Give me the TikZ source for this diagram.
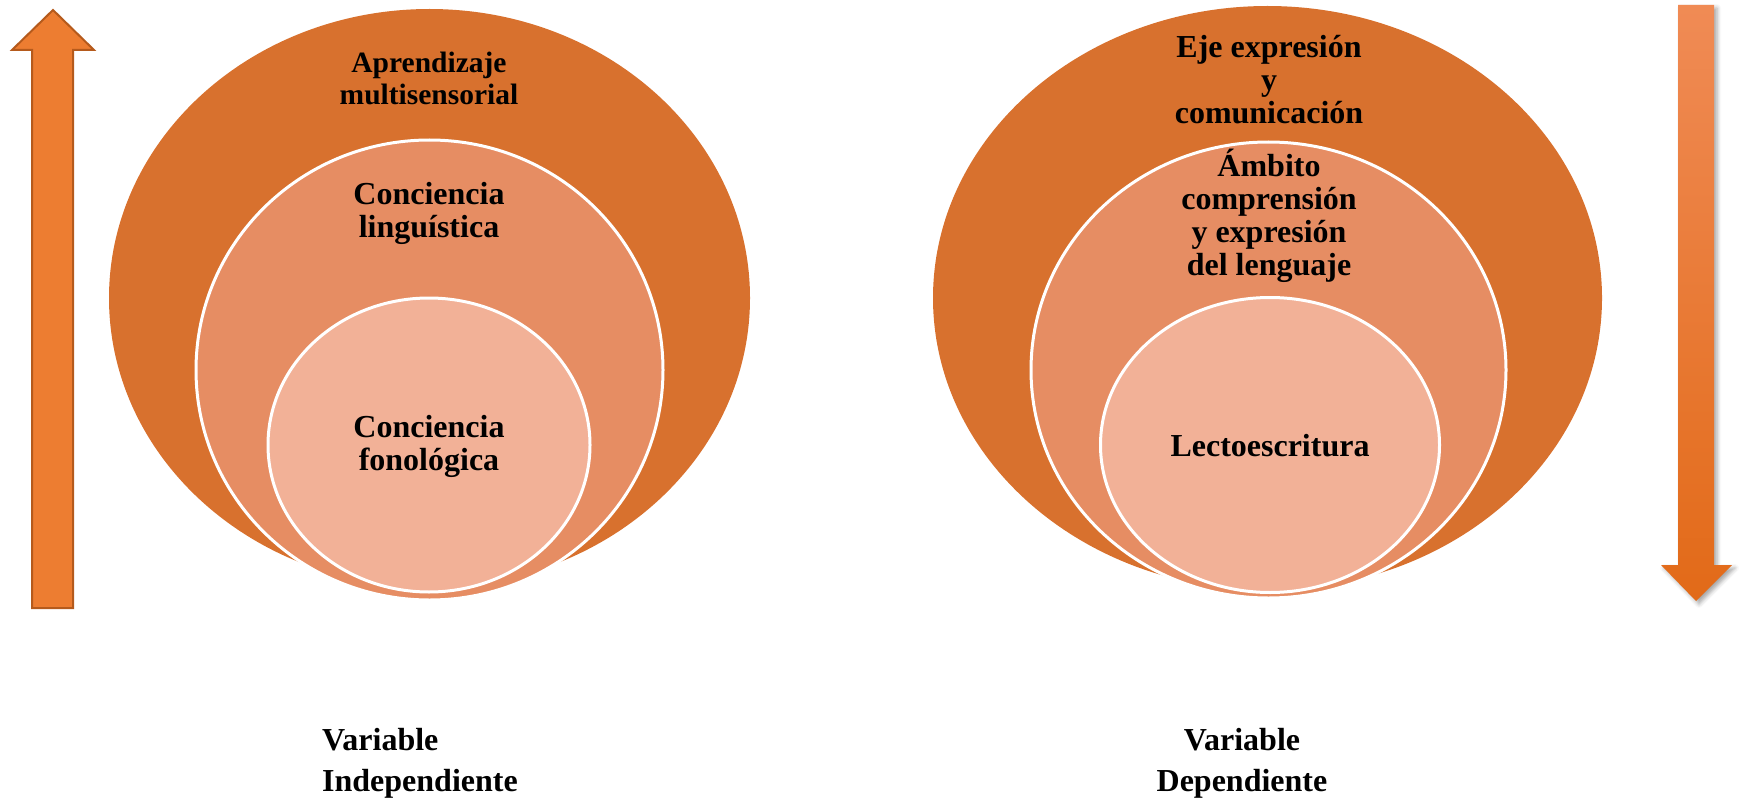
\documentclass[tikz,border=0pt]{standalone}
\usepackage{fontspec}
\setmainfont{Liberation Serif}
\usetikzlibrary{shapes.geometric}
\usetikzlibrary{shadows.blur}
\definecolor{outerc}{HTML}{D8712E}
\definecolor{middlec}{HTML}{E68D63}
\definecolor{innerc}{HTML}{F2B197}
\definecolor{arrowc}{HTML}{ED7D31}
\definecolor{arrowedge}{HTML}{B55A1C}
\definecolor{gradtop}{HTML}{F08B55}
\definecolor{gradmid}{HTML}{F47F2F}
\definecolor{gradbot}{HTML}{E26A18}

\begin{document}
\begin{tikzpicture}[x=1pt,y=-1pt,
    blob/.style={ellipse,inner sep=0pt},
    ring/.style={blob,draw=white,line width=3pt},
    txt/.style={font=\fontsize{32}{33}\selectfont\bfseries,align=center,inner sep=0pt},
    vartxt/.style={font=\fontsize{32}{41}\selectfont\bfseries,inner sep=0pt}]
\useasboundingbox (0,0) rectangle (1742,805);

    % left: independent variable
    \node[blob,fill=outerc,minimum width=641,minimum height=578] (outer0) at (429.5,298) {};
    \node[ring,fill=middlec,minimum width=467,minimum height=460] (middle0) at (429.5,370) {};
    \node[ring,fill=innerc,minimum width=322,minimum height=294] (inner0) at (429,445) {};

    % right: dependent variable
    \node[blob,fill=outerc,minimum width=669,minimum height=584] (outer1) at (1267.5,298) {};
    \node[ring,fill=middlec,minimum width=475,minimum height=456] (middle1) at (1268.5,370) {};
    \node[ring,fill=innerc,minimum width=339,minimum height=295] (inner1) at (1270,445) {};

    % labels
    \node[txt,font=\fontsize{29.5}{32}\selectfont\bfseries] (lab0a) at (429,78) {Aprendizaje\\multisensorial};
    \node[txt] (lab0b) at (429,213) {Conciencia\\linguística};
    \node[txt] (lab0c) at (429,446) {Conciencia\\fonológica};
    \node[txt] (lab1a) at (1269,80) {Eje expresión\\y\\comunicación};
    \node[txt] (lab1b) at (1269,216) {Ámbito\\comprensión\\y expresión\\del lenguaje};
    \node[txt] (lab1c) at (1270,446) {Lectoescritura};

    % variable names
    \node[vartxt,align=left,anchor=west] (indep) at (322,763) {Variable\\Independiente};
    \node[vartxt,align=center] (dep) at (1242,763) {Variable\\Dependiente};

    % arrows
    \draw[fill=arrowc,draw=arrowedge,line width=2pt,line join=miter]
        (32,608) -- (32,50) -- (12,50) -- (53,10) -- (94,50) -- (73,50) -- (73,608) -- cycle;
    \shade[top color=gradtop,middle color=gradmid,bottom color=gradbot,
        blur shadow={shadow xshift=3pt,shadow yshift=-3pt,shadow blur radius=4pt,shadow opacity=35}]
        (1678,5) -- (1714,5) -- (1714,565) -- (1732,565) -- (1696,601) -- (1661,565) -- (1678,565) -- cycle;
\end{tikzpicture}
\end{document}
